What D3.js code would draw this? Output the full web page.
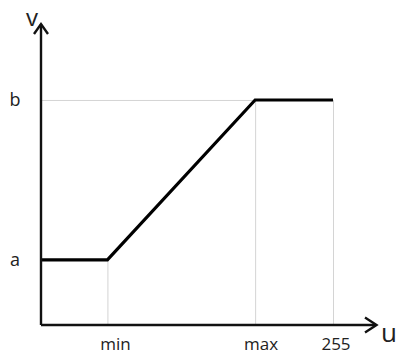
<!DOCTYPE html>
<html><head><meta charset="utf-8">
<script src="https://cdn.jsdelivr.net/npm/d3@7"></script>
<style>body{margin:0;background:#fff}svg{display:block}</style>
</head><body>
<svg id="c" width="399" height="356"></svg>
<script>
const uTicks = [{label:"min", value:58}, {label:"max", value:187}, {label:"255", value:255}];
const vTicks = [{label:"a", value:55}, {label:"b", value:190}];
const curveU = [0, 58, 187, 255];
const curveV = [55, 55, 190, 190];

const svg = d3.select("#c");
const x = d3.scaleLinear().domain([0,255]).range([41,333]);
const y = d3.scaleLinear().domain([0,255]).range([325,23]);
const font = "'Open Sans', 'DejaVu Sans', sans-serif";

// grid guides
const g = svg.append("g").attr("stroke","#d4d4d4").attr("stroke-width",1);
g.append("line").attr("x1",x(0)).attr("x2",x(187)).attr("y1",y(190)+0.5).attr("y2",y(190)+0.5);
g.append("line").attr("x1",x(58)+0.5).attr("x2",x(58)+0.5).attr("y1",y(55)).attr("y2",y(0));
g.append("line").attr("x1",x(187)+0.5).attr("x2",x(187)+0.5).attr("y1",y(190)).attr("y2",y(0));
g.append("line").attr("x1",x(255)+0.5).attr("x2",x(255)+0.5).attr("y1",y(190)).attr("y2",y(0));

// curve
const pts = curveU.map((u,i)=>[x(u), y(curveV[i])]);
svg.append("path").attr("d", d3.line()(pts)).attr("fill","none")
  .attr("stroke","#000").attr("stroke-width",3.2).attr("stroke-linejoin","miter");

// axes
const ax = svg.append("g").attr("stroke","#111").attr("stroke-width",2.4).attr("fill","none");
ax.append("path").attr("d", `M${x(0)},${y(0)} L${x(0)},24`);
ax.append("path").attr("d", `M${x(0)},${y(0)} L376,${y(0)}`);
ax.append("path").attr("d", `M${x(0)-7},34 L${x(0)},24 L${x(0)+7},34`).attr("stroke-linejoin","miter");
ax.append("path").attr("d", `M365,${y(0)-7.5} L376.5,${y(0)} L365,${y(0)+7.5}`).attr("stroke-linejoin","miter");

// tick labels
svg.selectAll("text.u").data(uTicks).enter().append("text")
  .attr("x", d=>x(d.value)+ (d.label==="min"?8:(d.label==="max"?6:3)))
  .attr("y", 350).attr("text-anchor","middle")
  .attr("font-family",font).attr("font-size",17).attr("fill","#222").text(d=>d.label);
svg.selectAll("text.v").data(vTicks).enter().append("text")
  .attr("x", 15).attr("y", d=>y(d.value)+6).attr("text-anchor","middle")
  .attr("font-family",font).attr("font-size",18).attr("fill","#222").text(d=>d.label);

svg.append("text").attr("x",389).attr("y",342).attr("text-anchor","middle")
  .attr("font-family",font).attr("font-size",26).attr("fill","#222").text("u");
svg.append("text").attr("x",32).attr("y",26).attr("text-anchor","middle")
  .attr("font-family",font).attr("font-size",24).attr("fill","#222").text("v");
</script>
</body></html>
